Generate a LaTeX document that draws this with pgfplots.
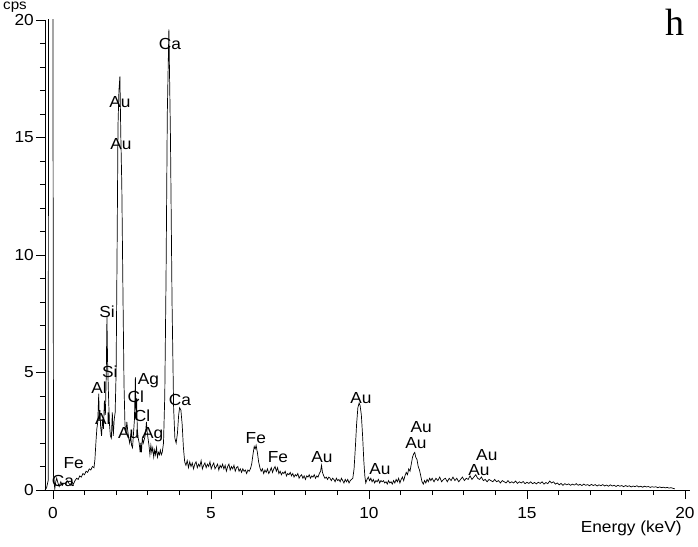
\documentclass[border=0pt]{standalone}
\usepackage{pgfplots}
\pgfplotsset{compat=1.18}
\usepackage{fontspec}
\setmainfont{Liberation Sans}[FakeStretch=1.08]
\newfontfamily\serifh{Liberation Serif}
\tikzset{lab/.style={font=\fontsize{16pt}{18pt}\selectfont, inner sep=0pt}}
\pgfplotstableread{
E c
-0.25 0
-0.20 0.1
-0.15 0.4
-0.13 30
-0.01 30
0.02 0.6
0.04 0.3
0.06 0.05
0.09 0.35
0.12 0.5
0.16 0.3
0.20 0.15
0.25 0.35
0.30 0.2
0.35 0.3
0.40 0.25
0.45 0.4
0.50 0.3
0.55 0.2
0.60 0.35
0.65 0.25
0.70 0.4
0.75 0.5
0.80 0.45
0.85 0.6
0.90 0.55
0.95 0.7
1.00 0.65
1.05 0.8
1.10 0.75
1.15 0.9
1.20 0.85
1.25 1.0
1.30 0.95
1.33 1.3
1.36 2.0
1.39 2.6
1.42 2.9
1.45 4.1
1.47 3.0
1.49 3.4
1.51 2.7
1.54 2.3
1.57 3.0
1.60 2.6
1.63 3.8
1.66 3.2
1.69 5.0
1.71 7.4
1.73 5.5
1.76 4.0
1.79 2.8
1.82 2.3
1.85 2.2
1.88 3.3
1.91 2.3
1.94 3.0
1.97 3.3
2.00 5.0
2.03 10
2.06 15.5
2.09 17.0
2.12 17.6
2.15 15.0
2.18 13.0
2.22 8.0
2.25 4.5
2.28 2.8
2.31 2.4
2.34 2.9
2.37 2.5
2.40 2.2
2.43 2.0
2.46 2.3
2.49 1.9
2.52 1.8
2.55 2.4
2.58 3.0
2.61 4.8
2.63 3.0
2.65 3.9
2.67 2.6
2.70 2.2
2.73 2.0
2.76 1.6
2.78 2.0
2.80 1.6
2.83 2.2
2.86 2.0
2.90 2.2
2.93 2.4
2.96 2.9
2.98 2.5
3.01 2.2
3.04 1.9
3.07 1.5
3.10 1.9
3.13 1.6
3.16 1.8
3.19 1.4
3.22 1.7
3.25 1.5
3.28 1.8
3.31 1.4
3.34 1.6
3.37 1.5
3.40 1.7
3.43 1.5
3.46 1.6
3.50 2.0
3.54 4.0
3.58 9.0
3.62 16
3.67 19.6
3.72 15
3.77 8
3.82 3.5
3.86 2.2
3.90 2.0
3.94 2.4
3.98 3.2
4.01 3.5
4.05 3.4
4.09 2.8
4.13 1.8
4.17 1.2
4.21 1.05
4.25 1.25
4.29 0.95
4.33 1.2
4.37 1.0
4.41 1.15
4.45 0.9
4.49 1.1
4.53 1.2
4.57 0.95
4.61 1.1
4.65 1.0
4.69 1.25
4.73 0.9
4.77 1.05
4.81 1.15
4.85 0.95
4.89 1.1
4.93 1.0
4.97 1.2
5.01 0.9
5.05 1.05
5.09 1.15
5.13 0.9
5.17 1.0
5.21 1.1
5.25 0.85
5.29 1.05
5.33 0.95
5.37 1.1
5.41 0.9
5.45 1.05
5.49 0.8
5.53 1.0
5.57 1.1
5.61 0.85
5.65 1.0
5.69 0.9
5.73 1.05
5.77 0.8
5.81 0.95
5.85 1.0
5.89 0.8
5.93 0.9
5.97 0.75
6.01 0.9
6.05 0.8
6.09 0.85
6.13 0.7
6.17 0.85
6.21 0.8
6.25 0.9
6.29 1.1
6.33 1.5
6.37 1.85
6.40 1.75
6.43 1.9
6.47 1.6
6.51 1.2
6.55 0.95
6.59 0.8
6.63 0.9
6.67 0.7
6.71 0.85
6.75 0.75
6.79 0.9
6.83 0.7
6.87 0.8
6.91 0.95
6.95 0.75
6.99 0.9
7.03 1.0
7.07 0.8
7.11 0.95
7.15 0.7
7.19 0.8
7.23 0.65
7.27 0.75
7.31 0.7
7.35 0.8
7.39 0.6
7.43 0.7
7.47 0.65
7.51 0.75
7.55 0.6
7.59 0.7
7.63 0.55
7.67 0.65
7.71 0.6
7.75 0.7
7.79 0.5
7.83 0.6
7.87 0.65
7.91 0.5
7.95 0.6
7.99 0.45
8.03 0.6
8.07 0.55
8.11 0.65
8.15 0.5
8.19 0.6
8.23 0.55
8.27 0.65
8.31 0.5
8.35 0.6
8.39 0.55
8.43 0.7
8.47 0.8
8.50 1.05
8.53 0.75
8.57 0.6
8.61 0.5
8.65 0.55
8.69 0.45
8.73 0.55
8.77 0.5
8.81 0.4
8.85 0.5
8.89 0.45
8.93 0.35
8.97 0.5
9.01 0.4
9.05 0.45
9.09 0.35
9.13 0.5
9.17 0.4
9.21 0.3
9.25 0.45
9.29 0.35
9.33 0.45
9.37 0.3
9.41 0.4
9.45 0.45
9.49 0.5
9.53 0.9
9.57 1.8
9.61 2.8
9.65 3.5
9.69 3.7
9.72 3.6
9.76 3.2
9.80 2.3
9.84 1.2
9.87 0.6
9.90 0.3
9.94 0.45
9.98 0.55
10.02 0.4
10.06 0.5
10.10 0.35
10.14 0.45
10.18 0.3
10.22 0.4
10.26 0.35
10.30 0.45
10.34 0.3
10.38 0.4
10.42 0.35
10.46 0.4
10.50 0.3
10.54 0.35
10.58 0.25
10.62 0.4
10.66 0.3
10.70 0.35
10.74 0.25
10.78 0.4
10.82 0.3
10.86 0.45
10.90 0.35
10.94 0.5
10.98 0.3
11.02 0.45
11.06 0.55
11.10 0.4
11.14 0.6
11.18 0.75
11.22 0.65
11.26 0.9
11.30 0.8
11.34 1.1
11.38 1.4
11.42 1.55
11.45 1.6
11.48 1.4
11.52 1.3
11.56 1.0
11.60 0.85
11.64 0.6
11.68 0.35
11.72 0.25
11.76 0.4
11.80 0.3
11.84 0.45
11.88 0.35
11.92 0.5
11.96 0.4
12.00 0.5
12.06 0.35
12.12 0.5
12.18 0.4
12.24 0.55
12.30 0.35
12.36 0.45
12.42 0.5
12.48 0.35
12.54 0.5
12.60 0.4
12.66 0.55
12.72 0.4
12.78 0.5
12.84 0.35
12.90 0.45
12.96 0.55
13.02 0.4
13.08 0.5
13.14 0.45
13.20 0.6
13.26 0.45
13.32 0.55
13.38 0.65
13.44 0.5
13.50 0.45
13.56 0.55
13.62 0.4
13.68 0.45
13.74 0.35
13.80 0.45
13.86 0.4
13.92 0.35
13.98 0.45
14.04 0.35
14.10 0.4
14.16 0.3
14.22 0.4
14.28 0.35
14.34 0.3
14.40 0.4
14.46 0.3
14.52 0.35
14.58 0.3
14.64 0.38
14.70 0.28
14.76 0.35
14.82 0.3
14.88 0.36
14.94 0.27
15.00 0.33
15.06 0.28
15.12 0.35
15.18 0.27
15.24 0.32
15.30 0.26
15.36 0.33
15.42 0.28
15.48 0.35
15.54 0.25
15.60 0.32
15.66 0.27
15.72 0.38
15.78 0.3
15.84 0.35
15.90 0.25
15.96 0.3
16.02 0.22
16.08 0.28
16.14 0.2
16.20 0.27
16.26 0.22
16.32 0.26
16.38 0.2
16.44 0.25
16.50 0.21
16.56 0.27
16.62 0.2
16.68 0.24
16.74 0.19
16.80 0.25
16.86 0.2
16.92 0.23
16.98 0.18
17.04 0.24
17.10 0.19
17.16 0.23
17.22 0.17
17.28 0.22
17.34 0.18
17.40 0.23
17.46 0.17
17.52 0.21
17.58 0.16
17.64 0.22
17.70 0.17
17.76 0.2
17.82 0.15
17.88 0.2
17.94 0.16
18.00 0.19
18.06 0.14
18.12 0.19
18.18 0.15
18.24 0.18
18.30 0.13
18.36 0.17
18.42 0.14
18.48 0.18
18.54 0.13
18.60 0.16
18.66 0.12
18.72 0.16
18.78 0.13
18.84 0.15
18.90 0.11
18.96 0.14
19.02 0.12
19.08 0.14
19.14 0.1
19.20 0.13
19.26 0.1
19.32 0.12
19.38 0.09
19.44 0.11
19.50 0.08
19.56 0.1
19.62 0.07
19.68 0.05
}\spectrum
\begin{document}
\fontsize{16pt}{18pt}\selectfont
\begin{tikzpicture}
\path[use as bounding box] (-45pt,-56pt) rectangle (653pt,490pt);
\begin{axis}[
  at={(0,0)}, anchor=south west,
  scale only axis, width=645pt, height=470pt,
  xmin=-0.25, xmax=20.16, ymin=0, ymax=20,
  axis x line=bottom, axis y line=left,
  axis line style={-, line width=0.8pt},
  xtick={0,5,10,15,20}, ytick={0,5,10,15,20},
  minor x tick num=4, minor y tick num=4,
  tick align=outside, major tick length=9pt, minor tick length=5pt,
  tick style={line width=0.6pt, black},
  /pgf/number format/assume math mode=true,
  tick label style={font=\fontsize{16pt}{18pt}\selectfont},
  xticklabel style={yshift=-3pt},
  yticklabel style={inner xsep=2pt, inner ysep=1pt},
  clip mode=individual,
]
\addplot[black, line width=0.7pt] table[x=E, y=c] {\spectrum};
\node[lab] at (axis cs:0.32,0.38) {Ca};
\node[lab] at (axis cs:0.66,1.15) {Fe};
\node[lab] at (axis cs:1.46,4.36) {Al};
\node[lab] at (axis cs:1.58,3.03) {Al};
\node[lab] at (axis cs:1.71,7.6) {Si};
\node[lab] at (axis cs:1.80,5.04) {Si};
\node[lab] at (axis cs:2.12,16.5) {Au};
\node[lab] at (axis cs:2.15,14.7) {Au};
\node[lab] at (axis cs:3.70,19.0) {Ca};
\node[lab] at (axis cs:3.02,4.66) {Ag};
\node[lab] at (axis cs:2.62,3.97) {Cl};
\node[lab] at (axis cs:2.82,3.16) {Cl};
\node[lab] at (axis cs:2.40,2.44) {Au};
\node[lab] at (axis cs:3.16,2.35) {Ag};
\node[lab] at (axis cs:4.02,3.85) {Ca};
\node[lab] at (axis cs:6.42,2.22) {Fe};
\node[lab] at (axis cs:7.12,1.41) {Fe};
\node[lab] at (axis cs:8.51,1.41) {Au};
\node[lab] at (axis cs:9.75,3.93) {Au};
\node[lab] at (axis cs:10.35,0.9) {Au};
\node[lab] at (axis cs:11.65,2.69) {Au};
\node[lab] at (axis cs:11.49,2.0) {Au};
\node[lab] at (axis cs:13.73,1.5) {Au};
\node[lab] at (axis cs:13.48,0.85) {Au};
\node[font=\fontsize{14pt}{15pt}\selectfont, inner sep=0pt, anchor=north, xshift=-30pt, yshift=18pt] at (rel axis cs:0,1) {cps};
\node[lab, yshift=-38pt] at (axis cs:18.3,0) {Energy (keV)};
\node[font=\serifh\fontsize{38pt}{40pt}\selectfont, inner sep=0pt] at (axis cs:19.68,19.9) {h};
\end{axis}
\end{tikzpicture}
\end{document}
